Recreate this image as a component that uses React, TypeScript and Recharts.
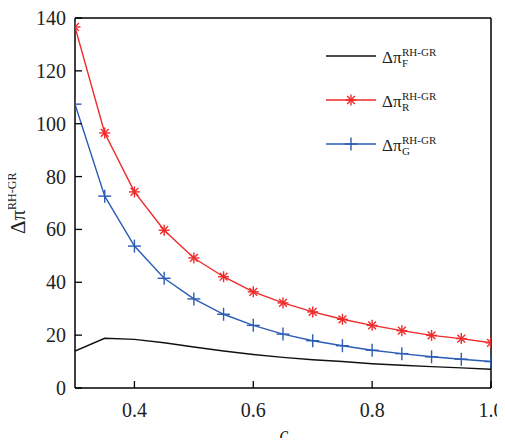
import React from 'react';
import { LineChart, Line, XAxis, YAxis, ReferenceLine } from 'recharts';

const cValues = [0.3, 0.35, 0.4, 0.45, 0.5, 0.55, 0.6, 0.65, 0.7, 0.75, 0.8, 0.85, 0.9, 0.95, 1.0];
const seriesF = [14.0, 18.8, 18.4, 17.1, 15.5, 14.0, 12.7, 11.6, 10.7, 10.0, 9.2, 8.6, 8.1, 7.6, 7.1];
const seriesR = [136.6, 96.5, 74.2, 59.7, 49.2, 42.1, 36.4, 32.2, 28.8, 26.0, 23.7, 21.7, 19.9, 18.7, 17.1];
const seriesG = [107.4, 72.6, 53.7, 41.5, 33.7, 27.9, 23.7, 20.4, 17.9, 16.0, 14.3, 13.0, 11.8, 10.9, 10.0];
const xTicks = [0.4, 0.6, 0.8, 1.0];
const yTicks = [0, 20, 40, 60, 80, 100, 120, 140];

const data = cValues.map((c, i) => ({ c, F: seriesF[i], R: seriesR[i], G: seriesG[i] }));

const FONT = '"Liberation Serif", "Times New Roman", serif';
const RED = '#f02a2a';
const BLUE = '#2b5cb4';

const Asterisk = (props: any) => {
  const { cx, cy } = props;
  if (cx == null || cy == null) return null;
  const r = 5.5;
  const d = r * 0.7071;
  return (
    <g stroke={RED} strokeWidth={1.4}>
      <line x1={cx - r} y1={cy} x2={cx + r} y2={cy} />
      <line x1={cx} y1={cy - r} x2={cx} y2={cy + r} />
      <line x1={cx - d} y1={cy - d} x2={cx + d} y2={cy + d} />
      <line x1={cx - d} y1={cy + d} x2={cx + d} y2={cy - d} />
    </g>
  );
};

const Plus = (props: any) => {
  const { cx, cy } = props;
  if (cx == null || cy == null) return null;
  const r = 6.5;
  return (
    <g stroke={BLUE} strokeWidth={1.4}>
      <line x1={cx - r} y1={cy} x2={cx + r} y2={cy} />
      <line x1={cx} y1={cy - r} x2={cx} y2={cy + r} />
    </g>
  );
};

const YTick = (props: any) => {
  const { x, y, payload } = props;
  return (
    <g>
      <line x1={x} y1={y} x2={x + 7} y2={y} stroke="#000" strokeWidth={1.3} />
      <text x={x - 9} y={y} dy={7} textAnchor="end" fontFamily={FONT} fontSize={20} fill="#222">
        {payload.value}
      </text>
    </g>
  );
};

const XTick = (props: any) => {
  const { x, y, payload } = props;
  return (
    <g>
      <line x1={x} y1={y} x2={x} y2={y - 7} stroke="#000" strokeWidth={1.3} />
      <text x={x} y={y + 29} textAnchor="middle" fontFamily={FONT} fontSize={20} fill="#222">
        {Number(payload.value).toFixed(1)}
      </text>
    </g>
  );
};

const LegendRow = ({ y, color, sub, marker }: { y: number; color: string; sub: string; marker: 'none' | 'star' | 'plus' }) => (
  <g>
    <line x1={326} y1={y} x2={376} y2={y} stroke={color} strokeWidth={1.4} />
    {marker === 'star' && <Asterisk cx={351} cy={y} />}
    {marker === 'plus' && <Plus cx={351} cy={y} />}
    <text x={382} y={y + 7} fontFamily={FONT} fontSize={17} fill="#222">
      Δπ
    </text>
    <text x={402} y={y} fontFamily={FONT} fontSize={11} fill="#222">
      RH-GR
    </text>
    <text x={402} y={y + 11} fontFamily={FONT} fontSize={11} fill="#222">
      {sub}
    </text>
  </g>
);

export default function App() {
  return (
    <div style={{ position: 'relative', width: 505, height: 446, margin: -8 }}>
      <LineChart width={505} height={446} data={data} margin={{ top: 18, right: 14, left: 0, bottom: 28 }}>
        <XAxis
          dataKey="c"
          type="number"
          domain={[0.3, 1.0]}
          ticks={xTicks}
          tick={<XTick />}
          tickLine={false}
          tickSize={0}
          tickMargin={0}
          height={30}
          axisLine={{ stroke: '#000', strokeWidth: 1.5 }}
          allowDataOverflow
        />
        <YAxis
          type="number"
          domain={[0, 140]}
          ticks={yTicks}
          tick={<YTick />}
          tickLine={false}
          tickSize={0}
          tickMargin={0}
          width={75}
          axisLine={{ stroke: '#000', strokeWidth: 1.5 }}
        />
        <ReferenceLine y={140} stroke="#000" strokeWidth={1.5} ifOverflow="visible" />
        <ReferenceLine x={1.0} stroke="#000" strokeWidth={1.5} ifOverflow="visible" />
        <Line type="linear" dataKey="F" stroke="#111" strokeWidth={1.4} dot={false} isAnimationActive={false} />
        <Line type="linear" dataKey="R" stroke={RED} strokeWidth={1.4} dot={<Asterisk />} isAnimationActive={false} />
        <Line type="linear" dataKey="G" stroke={BLUE} strokeWidth={1.4} dot={<Plus />} isAnimationActive={false} />
      </LineChart>
      <svg width={505} height={446} style={{ position: 'absolute', left: 0, top: 0, pointerEvents: 'none' }}>
        <LegendRow y={56} color="#111" sub="F" marker="none" />
        <LegendRow y={100} color={RED} sub="R" marker="star" />
        <LegendRow y={144} color={BLUE} sub="G" marker="plus" />
        <text transform="translate(25,234) rotate(-90)" fontFamily={FONT} fill="#222">
          <tspan fontSize={21}>Δπ</tspan>
          <tspan fontSize={12} dy={-9}>RH-GR</tspan>
        </text>
        <text x={284} y={441} textAnchor="middle" fontFamily={FONT} fontStyle="italic" fontSize={20} fill="#222">
          c
        </text>
      </svg>
    </div>
  );
}
